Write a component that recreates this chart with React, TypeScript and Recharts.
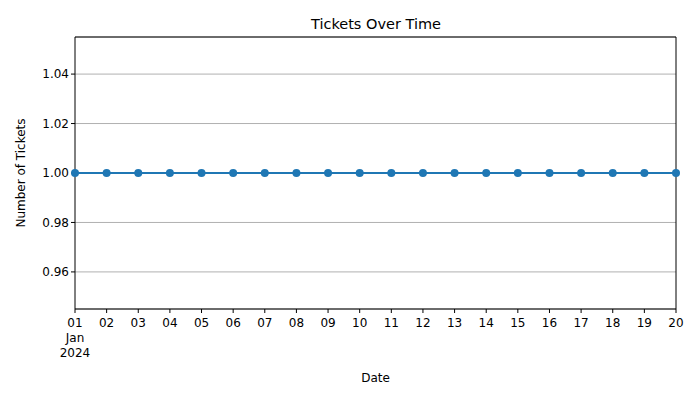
import { CartesianGrid, Line, LineChart, XAxis, YAxis, Label, ReferenceLine } from "recharts";

const days = ["01","02","03","04","05","06","07","08","09","10","11","12","13","14","15","16","17","18","19","20"];
const tickets = [1,1,1,1,1,1,1,1,1,1,1,1,1,1,1,1,1,1,1,1];
const yTicks = [0.96, 0.98, 1.0, 1.02, 1.04];
const yDomain = [0.945, 1.055];

const data = days.map((d, i) => ({ day: i + 1, label: d, tickets: tickets[i] }));

const font = "DejaVu Sans, sans-serif";

function DateTick(props: any) {
  const { x, y, payload } = props;
  const label = days[payload.value - 1];
  return (
    <g>
      <text x={x} y={y + 12} textAnchor="middle" fontSize={12} fill="#000" fontFamily={font}>{label}</text>
      {payload.value === 1 && (
        <>
          <text x={x} y={y + 27} textAnchor="middle" fontSize={12} fill="#000" fontFamily={font}>Jan</text>
          <text x={x} y={y + 42} textAnchor="middle" fontSize={12} fill="#000" fontFamily={font}>2024</text>
        </>
      )}
    </g>
  );
}

export default function App() {
  return (
    <div style={{ position: "fixed", left: 0, top: 0, background: "#fff" }}>
      <LineChart width={700} height={400} data={data} margin={{ top: 37, right: 24, left: 15, bottom: 51 }}>
        <text x={376} y={29} textAnchor="middle" fontSize={14.5} fontFamily={font} fill="#000">Tickets Over Time</text>
        <CartesianGrid vertical={false} stroke="#b0b0b0" />
        <XAxis dataKey="day" type="number" domain={[1, 20]} ticks={data.map((d) => d.day)}
          tick={<DateTick />} stroke="#000" tickSize={4} height={40} interval={0}>
          <Label value="Date" position="insideBottom" offset={-33} fontSize={12} fill="#000" fontFamily={font} />
        </XAxis>
        <YAxis domain={yDomain} ticks={yTicks} tickFormatter={(v: number) => v.toFixed(2)}
          tick={{ fontSize: 12, fill: "#000", fontFamily: font }} stroke="#000" tickSize={4} width={60}>
          <Label value="Number of Tickets" angle={-90} position="insideLeft" offset={6} style={{ textAnchor: "middle" }} fontSize={12} fill="#000" fontFamily={font} />
        </YAxis>
        <ReferenceLine y={yDomain[1]} stroke="#000" />
        <ReferenceLine x={20} stroke="#000" />
        <Line dataKey="tickets" stroke="#1f77b4" strokeWidth={1.8} dot={{ r: 4, fill: "#1f77b4", stroke: "#1f77b4", strokeWidth: 0 }} isAnimationActive={false} />
      </LineChart>
    </div>
  );
}
